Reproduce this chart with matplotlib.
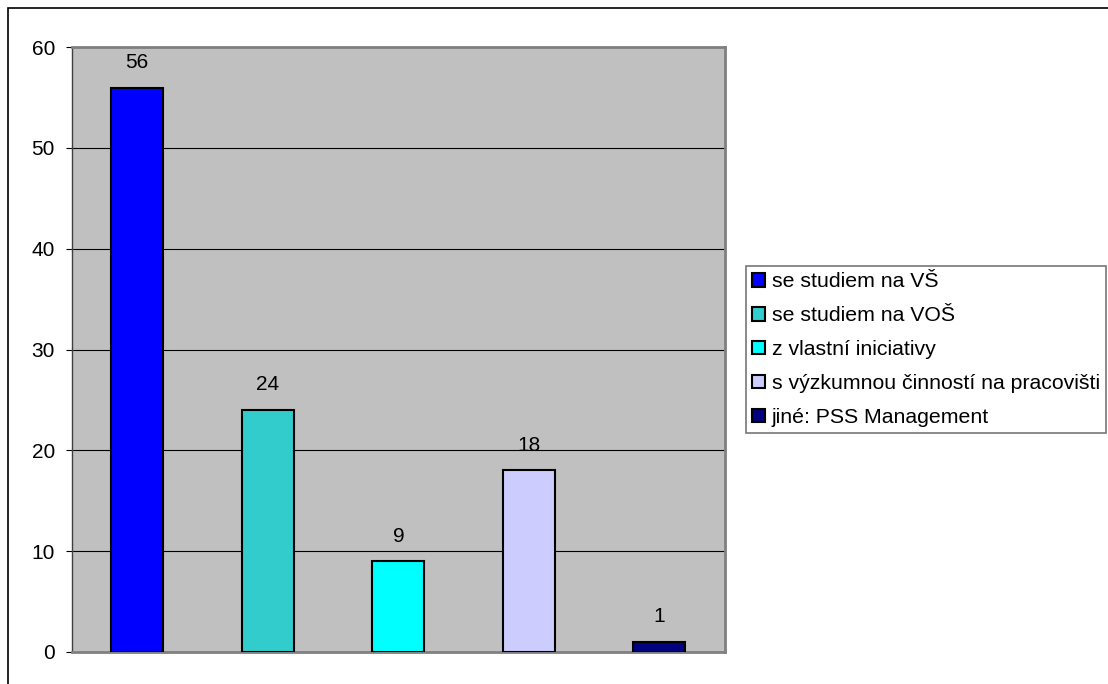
import numpy as np
import matplotlib.pyplot as plt
from matplotlib.patches import Rectangle, Patch

plt.rcParams['font.family'] = ['Liberation Sans', 'DejaVu Sans']

labels = ['se studiem na VŠ', 'se studiem na VOŠ', 'z vlastní iniciativy',
          's výzkumnou činností na pracovišti', 'jiné: PSS Management']
values = [56, 24, 9, 18, 1]
colors = ['#0000FF', '#33CCCC', '#00FFFF', '#CCCCFF', '#000080']

fig = plt.figure(figsize=(11.08, 6.84), dpi=100)
ax = fig.add_axes([0.065, 0.047, 0.589, 0.884])
ax.set_facecolor('#C0C0C0')

x = np.arange(len(values))
bars = ax.bar(x, values, width=0.4, color=colors, edgecolor='black', linewidth=1.5, zorder=3)
for xi, v in zip(x, values):
    ax.annotate(str(v), (xi, v), xytext=(0, 18), textcoords='offset points',
                ha='center', va='center', fontsize=15)

ax.set_xlim(-0.5, len(values) - 0.5)
ax.set_ylim(0, 60)
ax.set_yticks(range(0, 61, 10))
ax.set_xticks([])
ax.tick_params(axis='y', labelsize=15, length=4.3, direction='out', pad=8)
ax.yaxis.grid(True, color='black', linewidth=0.8, zorder=1)
ax.set_axisbelow(True)
for side in ['top', 'right', 'bottom']:
    ax.spines[side].set_color('#808080')
    ax.spines[side].set_linewidth(2)
ax.spines['left'].set_color('#404040')
ax.spines['left'].set_linewidth(1)

# outer chart frame
fig.patches.append(Rectangle((8 / 1108, -0.1), 1.2, 1.1 - 8 / 684, transform=fig.transFigure,
                             fill=False, edgecolor='black', linewidth=1.2))

handles = [Patch(facecolor=c, edgecolor='black', linewidth=1.5) for c in colors]
leg = fig.legend(handles, labels, loc='upper left', bbox_to_anchor=(746 / 1108, 1 - 266 / 684),
                 fontsize=15.3, frameon=True, fancybox=False, edgecolor='#555555',
                 handlelength=0.6, handleheight=0.6, handletextpad=0.3,
                 labelspacing=0.7, borderpad=0.3, borderaxespad=0)
leg.get_frame().set_linewidth(1.2)

fig.savefig('out.png', dpi=100)
